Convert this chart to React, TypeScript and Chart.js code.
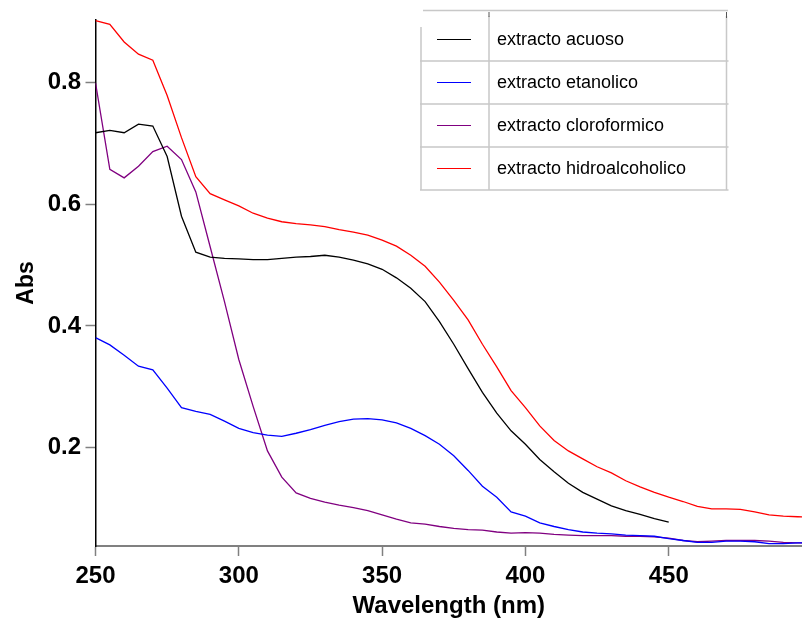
import React, { useEffect, useRef } from "react";
import { Chart, registerables } from "chart.js";
Chart.register(...registerables);

const wavelengths = [
  250, 255, 260, 265, 270, 275, 280, 285, 290, 295, 300, 305, 310, 315, 320, 325, 330, 335, 340, 345,
  350, 355, 360, 365, 370, 375, 380, 385, 390, 395, 400, 405, 410, 415, 420, 425, 430, 435, 440, 445,
  450, 455, 460, 465, 470, 475, 480, 485, 490, 495, 500,
];

const seriesLabels = [
  "extracto acuoso",
  "extracto etanolico",
  "extracto cloroformico",
  "extracto hidroalcoholico",
];

const acuoso = [
  0.717, 0.721, 0.717, 0.731, 0.728, 0.678, 0.58, 0.521, 0.513, 0.511, 0.51, 0.509, 0.509, 0.511, 0.513,
  0.514, 0.516, 0.513, 0.508, 0.502, 0.493, 0.479, 0.462, 0.44, 0.407, 0.37, 0.33, 0.291, 0.257, 0.228,
  0.206, 0.181, 0.161, 0.142, 0.127, 0.116, 0.105, 0.097, 0.091, 0.084, 0.078,
];

const etanolico = [
  0.381, 0.369, 0.352, 0.334, 0.328, 0.298, 0.266, 0.26, 0.255, 0.244, 0.232, 0.225, 0.221, 0.219, 0.224,
  0.23, 0.237, 0.243, 0.247, 0.248, 0.246, 0.241, 0.232, 0.22, 0.206, 0.187, 0.163, 0.137, 0.119, 0.095,
  0.088, 0.077, 0.071, 0.066, 0.062, 0.06, 0.059, 0.057, 0.056, 0.055, 0.051, 0.048, 0.045, 0.045, 0.047,
  0.047, 0.046, 0.043, 0.043, 0.044, 0.044,
];

const cloroformico = [
  0.799, 0.657, 0.643, 0.662, 0.686, 0.695, 0.673, 0.62, 0.53, 0.44, 0.345, 0.268, 0.195, 0.152, 0.126,
  0.117, 0.111, 0.106, 0.102, 0.097, 0.09, 0.083, 0.077, 0.075, 0.071, 0.068, 0.066, 0.065, 0.062, 0.06,
  0.061, 0.06, 0.058, 0.057, 0.056, 0.056, 0.056, 0.055, 0.055, 0.054, 0.052, 0.048, 0.046, 0.047, 0.048,
  0.048, 0.048, 0.047, 0.045, 0.044, 0.044,
];

const hidroalcoholico = [
  0.901, 0.895, 0.866, 0.846, 0.836, 0.778, 0.709, 0.645, 0.617, 0.607, 0.597, 0.585, 0.577, 0.571, 0.568,
  0.566, 0.563, 0.558, 0.554, 0.549, 0.541, 0.531, 0.516, 0.498, 0.472, 0.442, 0.41, 0.37, 0.333, 0.294,
  0.266, 0.236, 0.212, 0.195, 0.182, 0.169, 0.159, 0.146, 0.136, 0.127, 0.119, 0.112, 0.104, 0.1, 0.1,
  0.099, 0.095, 0.09, 0.088, 0.087, 0.086,
];

const seriesValues = [acuoso, etanolico, cloroformico, hidroalcoholico];
const seriesColors = ["#000000", "#0000ff", "#800080", "#ff0000"];

const xTicks = [250, 300, 350, 400, 450];
const yTicks = [0.2, 0.4, 0.6, 0.8];

const tableLegend = {
  id: "tableLegend",
  afterDraw(chart: any) {
    const ctx = chart.ctx as CanvasRenderingContext2D;
    ctx.save();
    const L = 421, M = 489, R = 726.5;
    const rows = [61, 104, 147, 190];
    ctx.fillStyle = "#ffffff";
    ctx.fillRect(L, 11, R - L, 190 - 11);
    ctx.strokeStyle = "#c8c8c8";
    ctx.lineWidth = 1.5;
    ctx.beginPath();
    ctx.moveTo(423, 10.5);
    ctx.lineTo(728, 10.5);
    ctx.moveTo(L, 27);
    ctx.lineTo(L, 190);
    ctx.moveTo(M, 16);
    ctx.lineTo(M, 190);
    ctx.moveTo(R, 16);
    ctx.lineTo(R, 190);
    rows.forEach((y) => {
      ctx.moveTo(L - 1, y);
      ctx.lineTo(R + 2, y);
    });
    ctx.stroke();
    ctx.strokeStyle = "#555555";
    ctx.lineWidth = 1;
    ctx.beginPath();
    ctx.moveTo(M, 12);
    ctx.lineTo(M, 17);
    ctx.moveTo(R, 12);
    ctx.lineTo(R, 18);
    ctx.stroke();
    const centers = [39.5, 82.5, 125.5, 168.5];
    chart.data.datasets.forEach((ds: any, i: number) => {
      const cy = centers[i];
      ctx.strokeStyle = ds.borderColor;
      ctx.lineWidth = 1.2;
      ctx.beginPath();
      ctx.moveTo(437, cy);
      ctx.lineTo(471, cy);
      ctx.stroke();
      ctx.fillStyle = "#000000";
      ctx.font = '18px "Liberation Sans", Arial, sans-serif';
      ctx.textBaseline = "middle";
      ctx.textAlign = "left";
      ctx.fillText(ds.label, 497, cy + 1);
    });
    ctx.restore();
  },
};

export default function App() {
  const ref = useRef<HTMLCanvasElement>(null);
  useEffect(() => {
    if (!ref.current) return;
    const datasets = seriesLabels.map((label, i) => ({
      label,
      data: seriesValues[i].map((v, j) => ({ x: wavelengths[j], y: v })),
      borderColor: seriesColors[i],
      backgroundColor: seriesColors[i],
      borderWidth: 1.3,
      pointRadius: 0,
      tension: 0,
      fill: false,
    }));
    const tickFont = { family: '"Liberation Sans", Arial, sans-serif', size: 24, weight: "bold" as const };
    const chart = new Chart(ref.current, {
      type: "line",
      data: { datasets },
      options: {
        responsive: false,
        animation: false,
        layout: { padding: { top: 20, right: 0, left: 0, bottom: 0 } },
        plugins: { legend: { display: false }, tooltip: { enabled: false } },
        scales: {
          x: {
            type: "linear",
            min: 250,
            max: 496.5,
            afterBuildTicks: (s: any) => {
              s.ticks = xTicks.map((v) => ({ value: v }));
            },
            afterFit: (s: any) => {
              s.height = 80;
            },
            ticks: { font: tickFont, color: "#000", padding: 6, autoSkip: false, maxRotation: 0 },
            grid: { drawOnChartArea: false, drawTicks: true, tickLength: 10, tickColor: "#808080", tickWidth: 1.5 },
            border: { display: true, color: "#808080", width: 2 },
            title: {
              display: true,
              text: "Wavelength (nm)",
              color: "#000",
              font: { family: '"Liberation Sans", Arial, sans-serif', size: 24, weight: "bold" },
              padding: { top: 0, bottom: 5 },
            },
          },
          y: {
            min: 0.039,
            max: 0.902,
            afterBuildTicks: (s: any) => {
              s.ticks = yTicks.map((v) => ({ value: v }));
            },
            afterFit: (s: any) => {
              s.width = 95.5;
            },
            ticks: {
              font: tickFont,
              color: "#000",
              padding: 4.5,
              callback: (v: any) => Number(v).toFixed(1),
            },
            grid: { drawOnChartArea: false, drawTicks: true, tickLength: 10, tickColor: "#808080", tickWidth: 1.5 },
            border: { display: true, color: "#000", width: 1.5 },
            title: {
              display: true,
              text: "Abs",
              color: "#000",
              font: { family: '"Liberation Sans", Arial, sans-serif', size: 23, weight: "bold" },
              padding: { top: 13, bottom: 0 },
            },
          },
        },
      },
      plugins: [tableLegend],
    });
    return () => chart.destroy();
  }, []);
  return (
    <div style={{ position: "absolute", left: 0, top: 0, width: 802, height: 626, background: "#fff" }}>
      <canvas ref={ref} width={802} height={626} style={{ display: "block" }} />
    </div>
  );
}
